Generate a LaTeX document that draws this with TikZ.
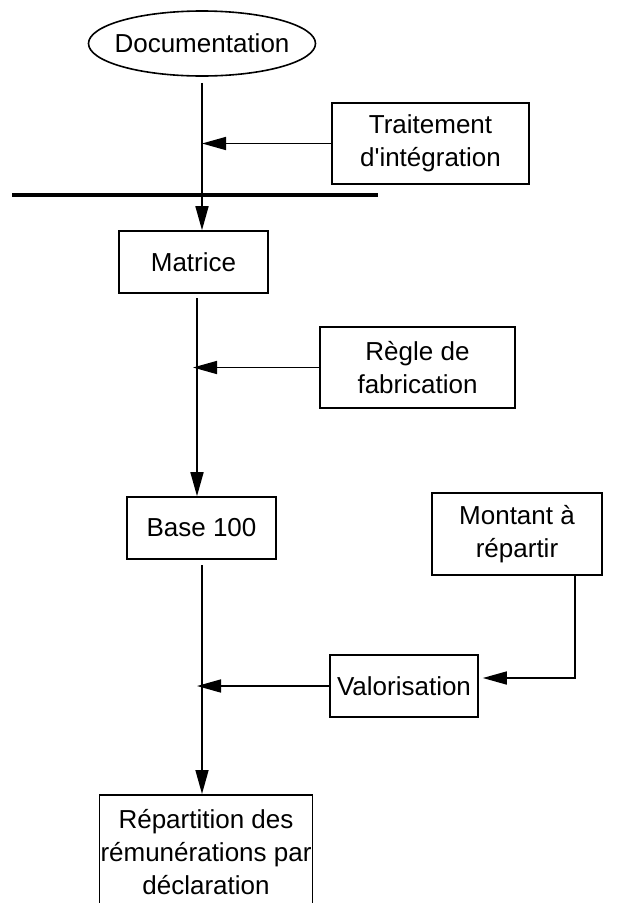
\documentclass[tikz,border=0pt]{standalone}
\usepackage{fontspec}
\setmainfont{Liberation Sans}[Ligatures=TeXOff]
\usetikzlibrary{arrows.meta,shapes.geometric}
\tikzset{
  lbl/.style={font=\fontsize{26}{33}\selectfont, align=center, inner sep=0pt},
  flowbox/.style={lbl, draw, line width=1.6pt, rectangle},
  conn/.style={line width=1.6pt},
  arr/.style={conn, -{Triangle[length=24pt,width=13pt]}},
}
\begin{document}
\begin{tikzpicture}[x=1pt,y=-1pt]
\clip (0,0) rectangle (620,903);
\fill[white] (0,0) rectangle (620,903);
% nodes
\node[lbl, ellipse, draw, line width=1.6pt, minimum width=227pt, minimum height=65pt] (doc) at (202,43.5) {\makebox[0pt]{Documentation}};
\node[flowbox, minimum width=197pt, minimum height=81pt] (trait) at (430.5,143.5) {Traitement\\d'intégration};
\node[flowbox, minimum width=149pt, minimum height=62pt] (matrice) at (193.5,262) {Matrice};
\node[flowbox, minimum width=195pt, minimum height=81pt] (regle) at (417.5,367.5) {Règle de\\fabrication};
\node[flowbox, minimum width=149pt, minimum height=62pt] (base) at (201.5,528) {Base 100};
\node[flowbox, minimum width=170pt, minimum height=82pt] (montant) at (517,534) {Montant à\\répartir};
\node[flowbox, minimum width=148pt, minimum height=62pt] (valo) at (404,686) {Valorisation};
\node[flowbox, minimum width=213pt, minimum height=120pt, anchor=north] (repart) at (206,794) {};
\node[lbl] (reptext) at (206,852) {Répartition des\\rémunérations par\\déclaration};
% bar
\coordinate (barL) at (12,195);
\coordinate (barR) at (378,195);
\draw[line width=4pt] (barL) -- (barR);
% trunk coordinates
\coordinate (t2) at (197,298);
\coordinate (t3) at (202,565);
% connectors
\draw[arr, shorten <=6pt] (doc.south) -- (doc.south |- matrice.north);
\draw[arr] (trait.west) -- (trait.west -| doc.south);
\draw[arr] (t2) -- (t2 |- base.north);
\draw[arr, shorten >=-4pt] (regle.west) -- (regle.west -| t2);
\draw[arr] (t3) -- (t3 |- repart.north);
\draw[arr, shorten >=-5pt] (valo.west) -- (valo.west -| t3);
\draw[arr] ([xshift=58pt]montant.south) |- ([xshift=4pt,yshift=8pt]valo.east);
\end{tikzpicture}
\end{document}
